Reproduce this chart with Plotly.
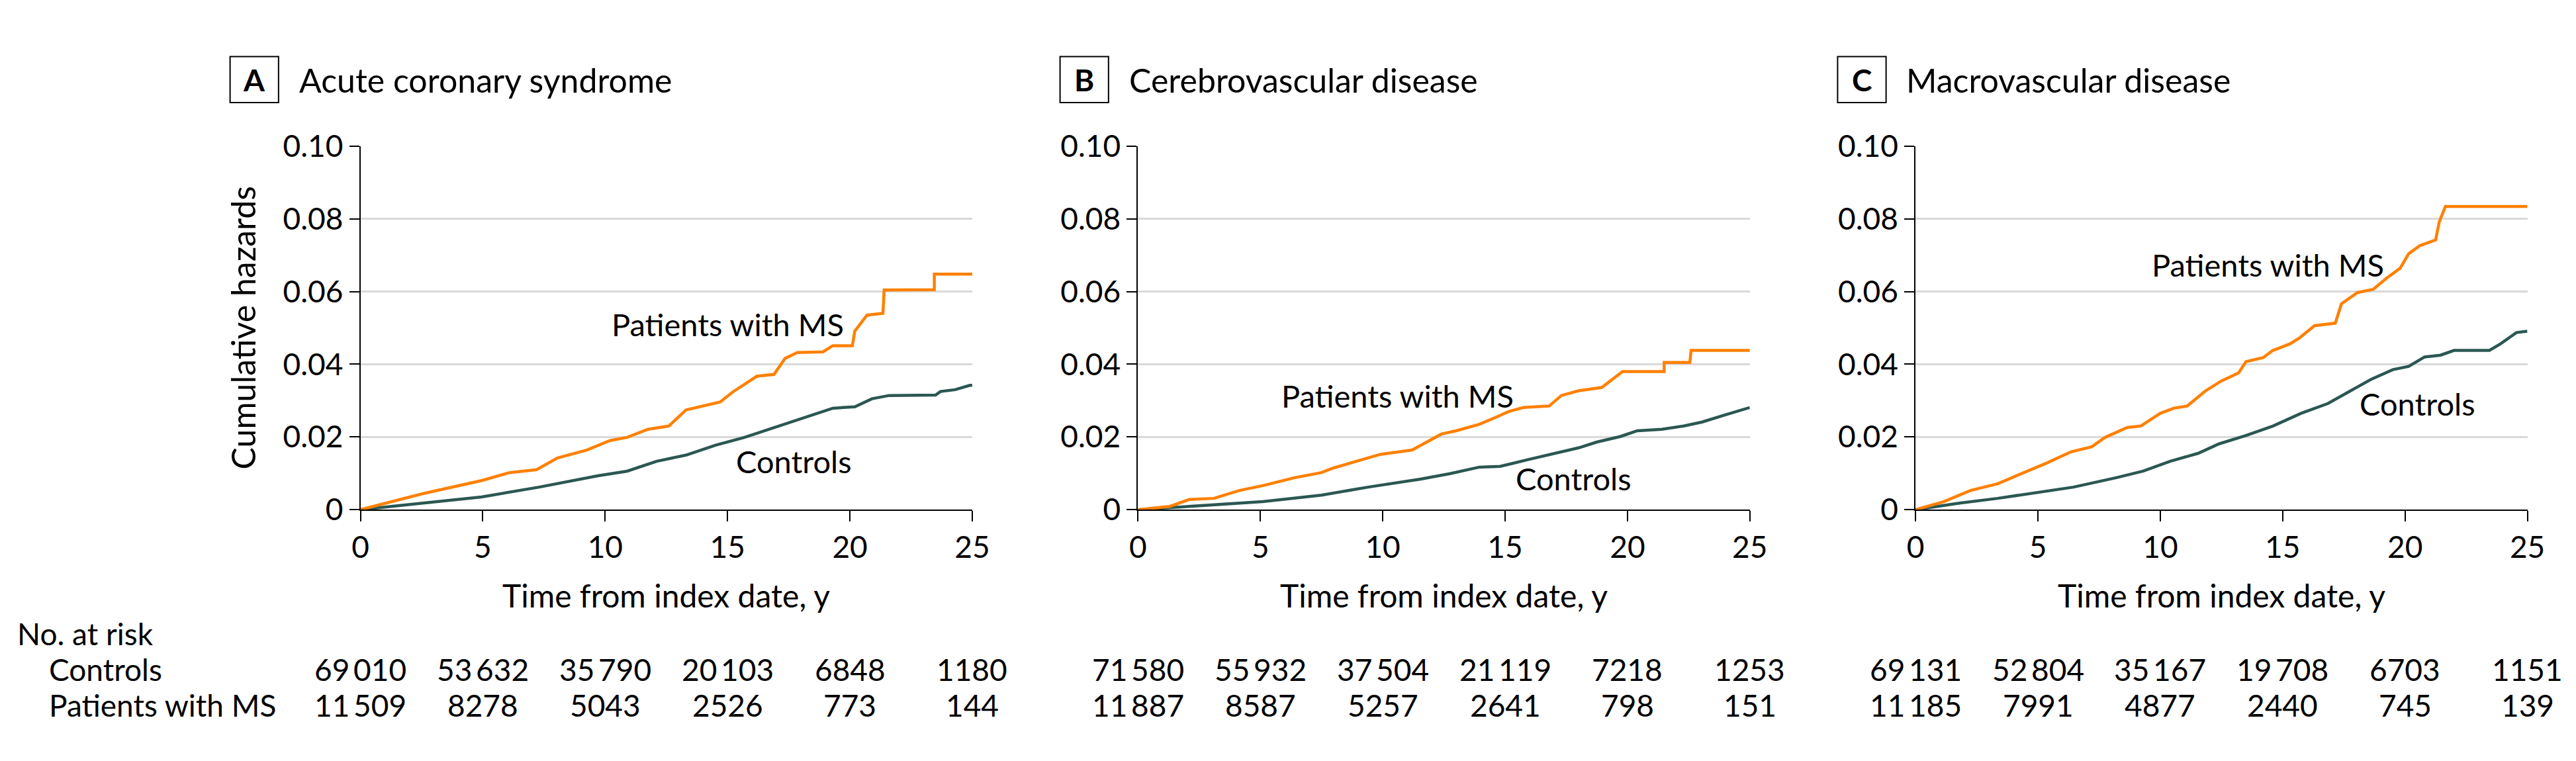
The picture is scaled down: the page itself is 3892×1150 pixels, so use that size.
import plotly.graph_objects as go

# --- DATA ---
PANELS = ["A", "B", "C"]
TITLES = ["Acute coronary syndrome", "Cerebrovascular disease", "Macrovascular disease"]

# Panel A - acute coronary syndrome
a_ms_t = [0, 2.55, 4.95, 6.1, 7.2, 8.05, 9.25, 10.2, 10.9, 11.75, 12.6, 13.3, 14.7, 15.2, 16.2, 16.9,
          17.35, 17.85, 18.9, 19.3, 20.1, 20.2, 20.7, 21.2, 21.35, 21.4, 23.45, 23.45, 25]
a_ms_h = [0, 0.0044, 0.008, 0.0102, 0.011, 0.0142, 0.0164, 0.019, 0.0199, 0.0221, 0.023, 0.0274, 0.0296,
          0.0323, 0.0367, 0.0372, 0.0416, 0.0432, 0.0434, 0.0451, 0.0451, 0.0491, 0.0535, 0.054, 0.054,
          0.0604, 0.0605, 0.0648, 0.0648]
a_ct_t = [0, 2.55, 4.95, 7.3, 9.7, 10.9, 12.1, 13.3, 14.5, 15.7, 16.9, 18.1, 19.3, 20.2, 20.9, 21.6,
          23.5, 23.7, 24.3, 24.9, 25]
a_ct_h = [0, 0.0018, 0.0035, 0.0062, 0.0093, 0.0106, 0.0133, 0.015, 0.0177, 0.0199, 0.0226, 0.0252,
          0.0279, 0.0283, 0.0305, 0.0314, 0.0315, 0.0325, 0.033, 0.0342, 0.0342]

# Panel B - cerebrovascular disease
b_ms_t = [0, 1.3, 2.1, 3.1, 4.15, 5.1, 6.4, 7.5, 8.0, 8.95, 9.9, 11.2, 11.8, 12.4, 13.0, 13.95, 14.55,
          15.15, 15.75, 16.8, 17.3, 18.0, 18.95, 19.45, 19.8, 21.5, 21.5, 22.55, 22.6, 25]
b_ms_h = [0, 0.0009, 0.0028, 0.0031, 0.0053, 0.0066, 0.0088, 0.0102, 0.0115, 0.0133, 0.0152, 0.0164,
          0.0186, 0.0208, 0.0217, 0.0235, 0.0252, 0.027, 0.0281, 0.0285, 0.0314, 0.0327, 0.0336, 0.0363,
          0.038, 0.038, 0.0405, 0.0405, 0.0438, 0.0438]
b_ct_t = [0, 2.0, 5.1, 7.5, 9.4, 11.55, 12.75, 13.95, 14.8, 15.9, 17.05, 18.0, 18.75, 19.7, 20.4, 21.4,
          22.3, 23.05, 24.0, 25]
b_ct_h = [0, 0.0009, 0.0022, 0.004, 0.0062, 0.0084, 0.0099, 0.0117, 0.0119, 0.0137, 0.0155, 0.017,
          0.0186, 0.0201, 0.0217, 0.0221, 0.023, 0.0241, 0.0261, 0.0281]

# Panel C - macrovascular disease
c_ms_t = [0, 1.15, 2.25, 3.35, 4.25, 5.35, 6.35, 7.2, 7.75, 8.65, 9.2, 10.0, 10.55, 11.1, 11.85, 12.5,
          13.2, 13.5, 14.2, 14.6, 15.3, 15.7, 16.3, 17.15, 17.4, 18.05, 18.7, 19.25, 19.8, 20.15, 20.6,
          21.25, 21.4, 21.65, 25]
c_ms_h = [0, 0.0022, 0.0053, 0.0071, 0.0097, 0.0128, 0.0159, 0.0173, 0.0199, 0.0226, 0.023, 0.0265,
          0.0279, 0.0285, 0.0327, 0.0354, 0.0376, 0.0407, 0.0418, 0.0438, 0.0456, 0.0473, 0.0506, 0.0513,
          0.0566, 0.0597, 0.0606, 0.0637, 0.0664, 0.0704, 0.0726, 0.0742, 0.0792, 0.0834, 0.0834]
c_ct_t = [0, 1.8, 3.35, 5.1, 6.45, 8.2, 9.3, 10.4, 11.55, 12.4, 13.5, 14.6, 15.75, 16.85, 17.7, 18.6,
          19.5, 20.15, 20.8, 21.45, 22.0, 23.45, 23.9, 24.55, 25]
c_ct_h = [0, 0.0018, 0.0031, 0.0049, 0.0062, 0.0088, 0.0106, 0.0133, 0.0155, 0.0181, 0.0204, 0.023,
          0.0265, 0.0292, 0.0323, 0.0358, 0.0385, 0.0394, 0.042, 0.0425, 0.0438, 0.0438, 0.0456, 0.0487,
          0.0491]

# curve label positions (data coords)
ms_label_xy = [(15.0, 0.051), (10.6, 0.0314), (14.4, 0.0673)]
ct_label_xy = [(17.7, 0.0133), (17.8, 0.0085), (20.5, 0.0291)]

# number at risk
risk_times = [0, 5, 10, 15, 20, 25]
risk_controls = [["69\u2009010", "53\u2009632", "35\u2009790", "20\u2009103", "6848", "1180"],
                 ["71\u2009580", "55\u2009932", "37\u2009504", "21\u2009119", "7218", "1253"],
                 ["69\u2009131", "52\u2009804", "35\u2009167", "19\u2009708", "6703", "1151"]]
risk_ms = [["11\u2009509", "8278", "5043", "2526", "773", "144"],
           ["11\u2009887", "8587", "5257", "2641", "798", "151"],
           ["11\u2009185", "7991", "4877", "2440", "745", "139"]]

y_ticks = [0, 0.02, 0.04, 0.06, 0.08, 0.10]
y_ticktext = ["0", "0.02", "0.04", "0.06", "0.08", "0.10"]
x_ticks = [0, 5, 10, 15, 20, 25]

# --- STYLE ---
W, H = 3892, 1150
FONT = "Lato"
ORANGE = "#FF8000"
GREEN = "#2B5752"
x_left = [529, 1716, 2903]
x_width = 934
y_top, y_bot = 193, 770


def px(x):
    return x / W


def py(y):
    return 1 - y / H


series = [(a_ms_t, a_ms_h, a_ct_t, a_ct_h), (b_ms_t, b_ms_h, b_ct_t, b_ct_h), (c_ms_t, c_ms_h, c_ct_t, c_ct_h)]

fig = go.Figure()
annotations = []
shapes = []

for i, (ms_t, ms_h, ct_t, ct_h) in enumerate(series):
    xa = "x" if i == 0 else f"x{i + 1}"
    ya = "y" if i == 0 else f"y{i + 1}"
    fig.add_trace(go.Scatter(x=ct_t, y=ct_h, mode="lines", xaxis=xa, yaxis=ya,
                             line=dict(color=GREEN, width=4.5), showlegend=False))
    fig.add_trace(go.Scatter(x=ms_t, y=ms_h, mode="lines", xaxis=xa, yaxis=ya,
                             line=dict(color=ORANGE, width=4.5), showlegend=False))

    ax_suffix = "" if i == 0 else str(i + 1)
    fig.update_layout(**{
        f"xaxis{ax_suffix}": dict(
            domain=[px(x_left[i]), px(x_left[i] + x_width)], range=[0, 25], anchor=ya,
            tickvals=x_ticks, ticks="outside", ticklen=16, tickwidth=2, tickcolor="black",
            showline=True, linecolor="black", linewidth=2, showgrid=False, zeroline=False,
            tickfont=dict(family=FONT, size=46, color="black")),
        f"yaxis{ax_suffix}": dict(
            domain=[py(y_bot), py(y_top)], range=[0, 0.1], anchor=xa,
            tickvals=y_ticks, ticktext=y_ticktext, ticks="outside", ticklen=15, tickwidth=2,
            tickcolor="black", showline=True, linecolor="black", linewidth=2,
            showgrid=True, gridcolor="#D9D9D9", gridwidth=3, zeroline=False,
            tickfont=dict(family=FONT, size=46, color="black")),
    })

    # panel letter box + title
    bx = x_left[i] - (199 if i == 0 else 119)
    shapes.append(dict(type="rect", xref="paper", yref="paper", x0=px(bx), x1=px(bx + 74),
                       y0=py(124), y1=py(51), line=dict(color="black", width=2)))
    annotations.append(dict(text=f"<b>{PANELS[i]}</b>", x=px(bx + 37), y=py(88), xref="paper", yref="paper",
                            showarrow=False, xanchor="center", yanchor="middle",
                            font=dict(family=FONT, size=46, color="black")))
    annotations.append(dict(text=TITLES[i], x=px(bx + 103), y=py(88), xref="paper", yref="paper",
                            showarrow=False, xanchor="left", yanchor="middle",
                            font=dict(family=FONT, size=50, color="black")))

    # curve labels
    for (lx, ly), txt in [(ms_label_xy[i], "Patients with MS"), (ct_label_xy[i], "Controls")]:
        annotations.append(dict(text=txt, x=lx, y=ly, xref=xa, yref=ya, showarrow=False,
                                xanchor="center", yanchor="middle",
                                font=dict(family=FONT, size=47, color="black")))

    # x axis title
    annotations.append(dict(text="Time from index date, y", x=px(x_left[i] + x_width / 2), y=py(906),
                            xref="paper", yref="paper", showarrow=False, xanchor="center", yanchor="middle",
                            font=dict(family=FONT, size=48, color="black")))

    # number at risk rows
    for t, c_txt, m_txt in zip(risk_times, risk_controls[i], risk_ms[i]):
        annotations.append(dict(text=c_txt, x=t, y=py(1023), xref=xa, yref="paper", showarrow=False,
                                xanchor="center", yanchor="middle",
                                font=dict(family=FONT, size=46, color="black")))
        annotations.append(dict(text=m_txt, x=t, y=py(1080), xref=xa, yref="paper", showarrow=False,
                                xanchor="center", yanchor="middle",
                                font=dict(family=FONT, size=46, color="black")))

# y axis title (panel A only)
annotations.append(dict(text="Cumulative hazards", x=px(350), y=py(481), xref="paper", yref="paper",
                        showarrow=False, textangle=-90, xanchor="center", yanchor="middle",
                        font=dict(family=FONT, size=50, color="black")))

# risk table row labels
annotations.append(dict(text="No. at risk", x=px(3), y=py(967), xref="paper", yref="paper", showarrow=False,
                        xanchor="left", yanchor="middle", font=dict(family=FONT, size=46, color="black")))
annotations.append(dict(text="Controls", x=px(52), y=py(1023), xref="paper", yref="paper", showarrow=False,
                        xanchor="left", yanchor="middle", font=dict(family=FONT, size=46, color="black")))
annotations.append(dict(text="Patients with MS", x=px(52), y=py(1080), xref="paper", yref="paper",
                        showarrow=False, xanchor="left", yanchor="middle",
                        font=dict(family=FONT, size=46, color="black")))

fig.update_layout(width=W, height=H, autosize=False, margin=dict(l=0, r=0, t=0, b=0),
                  plot_bgcolor="white", paper_bgcolor="white",
                  annotations=annotations, shapes=shapes,
                  font=dict(family=FONT, color="black"))

fig.write_html("out.html")
